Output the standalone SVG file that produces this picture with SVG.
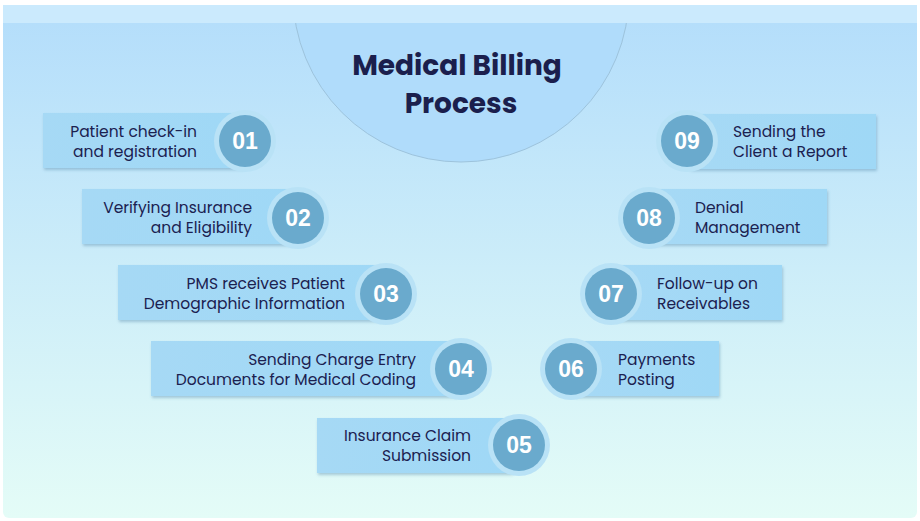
<svg xmlns="http://www.w3.org/2000/svg" width="920" height="521" viewBox="0 0 920 521">
<defs>
<linearGradient id="bg" x1="0" y1="0" x2="0" y2="1"><stop offset="0" stop-color="#b3ddfb"/><stop offset="1" stop-color="#e4fcf7"/></linearGradient>
<linearGradient id="box" x1="0" y1="0" x2="1" y2="0"><stop offset="0" stop-color="#a6d9f5"/><stop offset="1" stop-color="#9fd8f6"/></linearGradient>
<filter id="sh" x="-10%" y="-20%" width="130%" height="150%"><feDropShadow dx="1" dy="2" stdDeviation="1.5" flood-color="#5a8fb0" flood-opacity="0.45"/></filter>
<clipPath id="cp"><rect x="3" y="23" width="914" height="495"/></clipPath>
</defs>
<style>
.box{fill:url(#box);filter:url(#sh)}
.ring{fill:#b9e2f6}
.num{fill:#6aaacd}
.t{font-family:Poppins,"Open Sans","Noto Sans",sans-serif;font-size:15.5px;fill:#1b2150}
.n{font-family:"Liberation Sans",Arial,sans-serif;font-size:23px;font-weight:bold;fill:#fff;text-anchor:middle}
.r{text-anchor:end}
</style>
<rect width="920" height="521" fill="#fff"/>
<rect x="3" y="5" width="914" height="513" rx="6" fill="url(#bg)"/>
<rect x="3" y="5" width="914" height="18" fill="#cbeafd"/>
<g id="title">
<circle cx="461" cy="-6" r="168" fill="#b0dcfb" stroke="#9dc3dc" stroke-width="1" clip-path="url(#cp)"/>
<text x="457" y="75" text-anchor="middle" style="font-family:Poppins,'Open Sans',sans-serif;font-size:28px;font-weight:bold;fill:#1b1f4d">Medical Billing</text>
<text x="461" y="113" text-anchor="middle" style="font-family:Poppins,'Open Sans',sans-serif;font-size:28px;font-weight:bold;fill:#1b1f4d">Process</text>
</g>
<g id="connectors"></g>
<g id="n1"><rect class="box" x="43" y="113" width="200" height="55"/><circle class="ring" cx="245" cy="141" r="31"/><circle class="num" cx="245" cy="141" r="26"/><text class="n" x="245" y="149">01</text><text class="t r" x="197" y="137">Patient check-in</text><text class="t r" x="197" y="157">and registration</text></g>
<g id="n2"><rect class="box" x="82" y="189" width="210" height="55"/><circle class="ring" cx="298" cy="218" r="31"/><circle class="num" cx="298" cy="218" r="26"/><text class="n" x="298" y="226">02</text><text class="t r" x="252" y="213">Verifying Insurance</text><text class="t r" x="252" y="233">and Eligibility</text></g>
<g id="n3"><rect class="box" x="118" y="265" width="262" height="55"/><circle class="ring" cx="386" cy="294" r="31"/><circle class="num" cx="386" cy="294" r="26"/><text class="n" x="386" y="302">03</text><text class="t r" x="345" y="289">PMS receives Patient</text><text class="t r" x="345" y="309">Demographic Information</text></g>
<g id="n4"><rect class="box" x="151" y="341" width="305" height="55"/><circle class="ring" cx="461" cy="369" r="31"/><circle class="num" cx="461" cy="369" r="26"/><text class="n" x="461" y="377">04</text><text class="t r" x="416" y="365">Sending Charge Entry</text><text class="t r" x="416" y="385">Documents for Medical Coding</text></g>
<g id="n5"><rect class="box" x="317" y="418" width="195" height="55"/><circle class="ring" cx="519" cy="445" r="31"/><circle class="num" cx="519" cy="445" r="26"/><text class="n" x="519" y="453">05</text><text class="t r" x="471" y="441">Insurance Claim</text><text class="t r" x="471" y="461">Submission</text></g>
<g id="n6"><rect class="box" x="575" y="341" width="144" height="55"/><circle class="ring" cx="571" cy="369" r="31"/><circle class="num" cx="571" cy="369" r="26"/><text class="n" x="571" y="377">06</text><text class="t" x="618" y="365">Payments</text><text class="t" x="618" y="385">Posting</text></g>
<g id="n7"><rect class="box" x="615" y="265" width="167" height="55"/><circle class="ring" cx="611" cy="294" r="31"/><circle class="num" cx="611" cy="294" r="26"/><text class="n" x="611" y="302">07</text><text class="t" x="657" y="289">Follow-up on</text><text class="t" x="657" y="309">Receivables</text></g>
<g id="n8"><rect class="box" x="653" y="189" width="174" height="55"/><circle class="ring" cx="649" cy="218" r="31"/><circle class="num" cx="649" cy="218" r="26"/><text class="n" x="649" y="226">08</text><text class="t" x="695" y="213">Denial</text><text class="t" x="695" y="233">Management</text></g>
<g id="n9"><rect class="box" x="690" y="114" width="186" height="55"/><circle class="ring" cx="687" cy="141" r="31"/><circle class="num" cx="687" cy="141" r="26"/><text class="n" x="687" y="149">09</text><text class="t" x="733" y="137">Sending the</text><text class="t" x="733" y="157">Client a Report</text></g>
</svg>
